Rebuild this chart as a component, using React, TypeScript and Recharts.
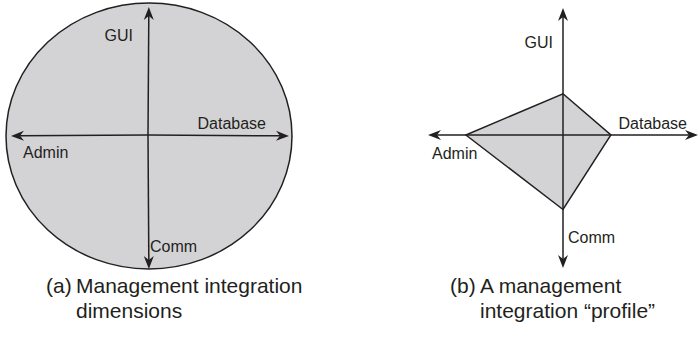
import { PolarAngleAxis, PolarRadiusAxis, Radar, RadarChart } from "recharts";

const dimensions = ["GUI", "Database", "Comm", "Admin"];
// (a) full reach of each dimension
const extentValues = [9.3, 10, 9.3, 10];
// (b) one product's integration profile
const profileValues = [3.1, 3.6, 5.6, 7.3];
const captionA = ["(a)", "Management integration", "dimensions"];
const captionB = ["(b)", "A management", "integration \u201cprofile\u201d"];

const extentData = dimensions.map((dim, i) => ({ dim, value: extentValues[i] }));
const profileData = dimensions.map((dim, i) => ({ dim, value: profileValues[i] }));

const INK = "#231f20";
const GRAY = "#d3d3d5";
const FONT = "'Liberation Sans', Arial, Helvetica, sans-serif";

type Spot = { dx: number; dy: number; anchor: "start" | "end" };

function axisTick(
  cx: number,
  cy: number,
  reach: Record<string, number>,
  labels: Record<string, Spot>
) {
  return (props: any) => {
    const { x, y, payload } = props;
    const name = payload.value as string;
    const vx = x - cx;
    const vy = y - cy;
    const d = Math.hypot(vx, vy) || 1;
    const ux = vx / d;
    const uy = vy / d;
    const len = reach[name];
    const tx = cx + ux * len;
    const ty = cy + uy * len;
    const px = -uy;
    const py = ux;
    const head = `M${tx},${ty} L${tx - ux * 13 + px * 5},${ty - uy * 13 + py * 5} L${tx - ux * 9},${ty - uy * 9} L${tx - ux * 13 - px * 5},${ty - uy * 13 - py * 5} Z`;
    const lab = labels[name];
    return (
      <g>
        <line x1={cx} y1={cy} x2={tx - ux * 9} y2={ty - uy * 9} stroke={INK} strokeWidth={1.5} />
        <path d={head} fill={INK} />
        <text
          x={cx + lab.dx}
          y={cy + lab.dy}
          textAnchor={lab.anchor}
          dominantBaseline="central"
          fontFamily={FONT}
          fontSize={16}
          fill={INK}
        >
          {name}
        </text>
      </g>
    );
  };
}

const EllipseShape = (props: any) => {
  const pts = props.points || [];
  const cx = pts[0]?.cx ?? 148;
  const cy = pts[0]?.cy ?? 136;
  const rx = Math.max(...pts.map((p: any) => Math.abs(p.x - cx)));
  const ry = Math.max(...pts.map((p: any) => Math.abs(p.y - cy)));
  return <ellipse cx={cx} cy={cy} rx={rx} ry={ry} fill={GRAY} stroke={INK} strokeWidth={1.5} />;
};

function Caption({ lines, left, indent }: { lines: string[]; left: number; indent: number }) {
  const style = {
    position: "absolute" as const,
    fontFamily: FONT,
    fontSize: 21,
    lineHeight: "25px",
    color: INK,
    whiteSpace: "nowrap" as const,
  };
  return (
    <>
      <div style={{ ...style, left, top: 273 }}>{lines[0]}</div>
      <div style={{ ...style, left: left + indent, top: 273 }}>{lines[1]}</div>
      <div style={{ ...style, left: left + indent, top: 298 }}>{lines[2]}</div>
    </>
  );
}

export default function App() {
  const tickA = axisTick(
    148,
    135,
    { GUI: 128, Database: 141, Comm: 134, Admin: 137 },
    {
      GUI: { dx: -15, dy: -100, anchor: "end" },
      Database: { dx: 118, dy: -12, anchor: "end" },
      Comm: { dx: 2, dy: 111, anchor: "start" },
      Admin: { dx: -125, dy: 17, anchor: "start" },
    }
  );
  const tickB = axisTick(
    163,
    135,
    { GUI: 127, Database: 135, Comm: 133, Admin: 135 },
    {
      GUI: { dx: -10, dy: -93, anchor: "end" },
      Database: { dx: 124, dy: -12, anchor: "end" },
      Comm: { dx: 5, dy: 102, anchor: "start" },
      Admin: { dx: -131, dy: 18, anchor: "start" },
    }
  );

  return (
    <div style={{ position: "absolute", left: 0, top: 0, width: 700, height: 340, background: "#fff" }}>
      <div style={{ position: "absolute", left: 0, top: 0 }}>
        <RadarChart
          width={300}
          height={280}
          data={extentData}
          cx={149}
          cy={136}
          outerRadius={143}
          startAngle={90}
          endAngle={-270}
          margin={{ top: 0, right: 0, bottom: 0, left: 0 }}
        >
          <PolarRadiusAxis domain={[0, 10]} tick={false} axisLine={false} />
          <Radar dataKey="value" shape={EllipseShape} isAnimationActive={false} />
          <PolarAngleAxis dataKey="dim" tick={tickA} tickLine={false} axisLine={false} />
        </RadarChart>
      </div>
      <div style={{ position: "absolute", left: 400, top: 0 }}>
        <RadarChart
          width={300}
          height={280}
          data={profileData}
          cx={163}
          cy={135}
          outerRadius={133}
          startAngle={90}
          endAngle={-270}
          margin={{ top: 0, right: 0, bottom: 0, left: 0 }}
        >
          <PolarRadiusAxis domain={[0, 10]} tick={false} axisLine={false} />
          <Radar
            dataKey="value"
            fill={GRAY}
            fillOpacity={1}
            stroke={INK}
            strokeWidth={1.5}
            isAnimationActive={false}
          />
          <PolarAngleAxis dataKey="dim" tick={tickB} tickLine={false} axisLine={false} />
        </RadarChart>
      </div>
      <Caption lines={captionA} left={46} indent={30} />
      <Caption lines={captionB} left={450} indent={30} />
    </div>
  );
}
